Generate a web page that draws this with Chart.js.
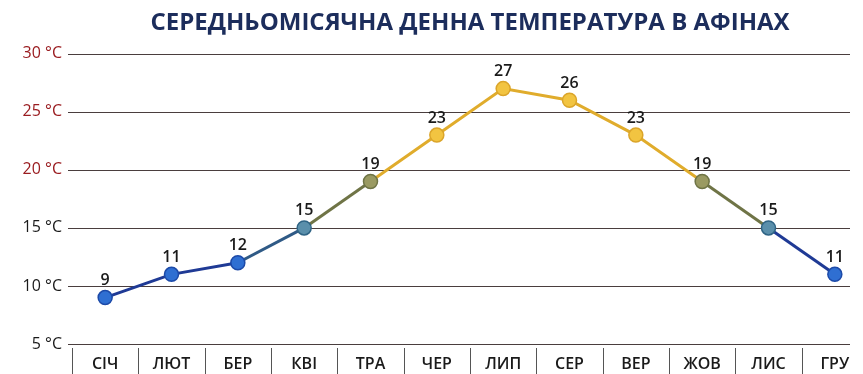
<!DOCTYPE html>
<html lang="uk">
<head>
<meta charset="utf-8">
<title>Середньомісячна денна температура в Афінах</title>
<script src="https://cdn.jsdelivr.net/npm/chart.js@4.4.1/dist/chart.umd.min.js"></script>
<style>
    html, body { margin: 0; padding: 0; background: #fff; overflow: hidden; }
    #wrap { width: 863px; height: 374px; overflow: hidden; }
</style>
</head>
<body>
<div id="wrap">
    <canvas id="temp-chart" width="880" height="374"></canvas>
</div>
<script>
// Months and average daytime temperature, °C
const months = ['СІЧ', 'ЛЮТ', 'БЕР', 'КВІ', 'ТРА', 'ЧЕР', 'ЛИП', 'СЕР', 'ВЕР', 'ЖОВ', 'ЛИС', 'ГРУ'];
const temps = [9, 11, 12, 15, 19, 23, 27, 26, 23, 19, 15, 11];
const yTicks = [5, 10, 15, 20, 25, 30];

const FONT = "'Open Sans', 'Noto Sans', sans-serif";

// Line colour goes from dark blue (cold) through olive to gold (hot)
function lineColor(v) {
    if (v <= 12) return '#1f3a95';
    if (v <= 15) return '#2f5a86';
    if (v <= 19) return '#6f7446';
    return '#e0ac2c';
}

function pointFill(v) {
    if (v <= 12) return '#2f6fd2';
    if (v <= 15) return '#5a8fab';
    if (v <= 19) return '#9a9a62';
    return '#f2c441';
}

function pointBorder(v) {
    if (v <= 12) return '#1d4aa8';
    if (v <= 15) return '#2f6485';
    if (v <= 19) return '#6f7446';
    return '#dba52a';
}

// colour of a segment is picked from its lower end
function segmentColor(c) {
    const lo = Math.min(c.p0.parsed.y, c.p1.parsed.y);
    if (lo >= 19) return lineColor(23);
    if (lo >= 15) return lineColor(19);
    if (lo >= 12) return lineColor(15);
    return lineColor(9);
}

// Horizontal rules at each y tick, a bit shorter than the plot
const gridPlugin = {
    id: 'rules',
    beforeDatasetsDraw(chart) {
        const { ctx, scales: { y }, chartArea } = chart;
        ctx.save();
        ctx.strokeStyle = '#4a3e3e';
        ctx.lineWidth = 1.2;
        yTicks.forEach(function(t) {
            const py = Math.round(y.getPixelForValue(t)) + 0.5;
            ctx.beginPath();
            ctx.moveTo(chartArea.left - 4, py);
            ctx.lineTo(850, py);
            ctx.stroke();
        });
        ctx.restore();
    }
};

// Vertical separators between month labels
const separatorPlugin = {
    id: 'separators',
    afterDraw(chart) {
        const { ctx, scales: { x }, chartArea } = chart;
        const step = x.getPixelForValue(1) - x.getPixelForValue(0);
        ctx.save();
        ctx.strokeStyle = '#555';
        ctx.lineWidth = 1;
        for (let i = 0; i <= months.length; i++) {
            const px = Math.round(x.getPixelForValue(0) + (i - 0.5) * step) + 0.5;
            ctx.beginPath();
            ctx.moveTo(px, chartArea.bottom + 4);
            ctx.lineTo(px, chart.height);
            ctx.stroke();
        }
        ctx.restore();
    }
};

// Value labels above each point
const valueLabelPlugin = {
    id: 'valueLabels',
    afterDatasetsDraw(chart) {
        const { ctx } = chart;
        const meta = chart.getDatasetMeta(0);
        ctx.save();
        ctx.fillStyle = '#1a1a1a';
        ctx.font = '600 16px ' + FONT;
        ctx.textAlign = 'center';
        ctx.textBaseline = 'bottom';
        meta.data.forEach(function(pt, i) {
            ctx.fillText(String(temps[i]), pt.x, pt.y - 9);
        });
        ctx.restore();
    }
};

const ctx = document.getElementById('temp-chart').getContext('2d');
new Chart(ctx, {
    type: 'line',
    data: {
        labels: months,
        datasets: [{
            data: temps,
            borderWidth: 3,
            tension: 0,
            segment: { borderColor: segmentColor },
            pointRadius: 7,
            pointHoverRadius: 7,
            pointBorderWidth: 1.5,
            pointBackgroundColor: function(c) { return pointFill(c.raw); },
            pointBorderColor: function(c) { return pointBorder(c.raw); }
        }]
    },
    options: {
        responsive: false,
        animation: false,
        layout: { padding: { left: 0, right: 12, top: 0, bottom: 0 } },
        plugins: {
            legend: { display: false },
            tooltip: { enabled: false },
            title: {
                display: true,
                fullSize: false,
                text: 'СЕРЕДНЬОМІСЯЧНА ДЕННА ТЕМПЕРАТУРА В АФІНАХ',
                color: '#1c2d5c',
                font: { family: FONT, size: 24, weight: '700', lineHeight: 1.2 },
                padding: { top: 9, bottom: 16 }
            }
        },
        scales: {
            x: {
                offset: true,
                grid: { display: false },
                border: { display: false },
                afterFit: function(scale) { scale.height = 30; },
                ticks: {
                    color: '#1a1a1a',
                    padding: 3,
                    font: { family: FONT, size: 16, weight: '600' }
                }
            },
            y: {
                min: 5,
                max: 30,
                grid: { display: false, drawTicks: false },
                border: { display: false },
                afterFit: function(scale) { scale.width = 72; },
                afterBuildTicks: function(scale) {
                    scale.ticks = yTicks.map(function(v) { return { value: v }; });
                },
                ticks: {
                    padding: 10,
                    font: { family: FONT, size: 16 },
                    color: function(c) { return c.tick.value >= 20 ? '#9a1c20' : '#1a1a1a'; },
                    callback: function(v) { return v + ' °C'; }
                }
            }
        }
    },
    plugins: [gridPlugin, separatorPlugin, valueLabelPlugin]
});
</script>
</body>
</html>
